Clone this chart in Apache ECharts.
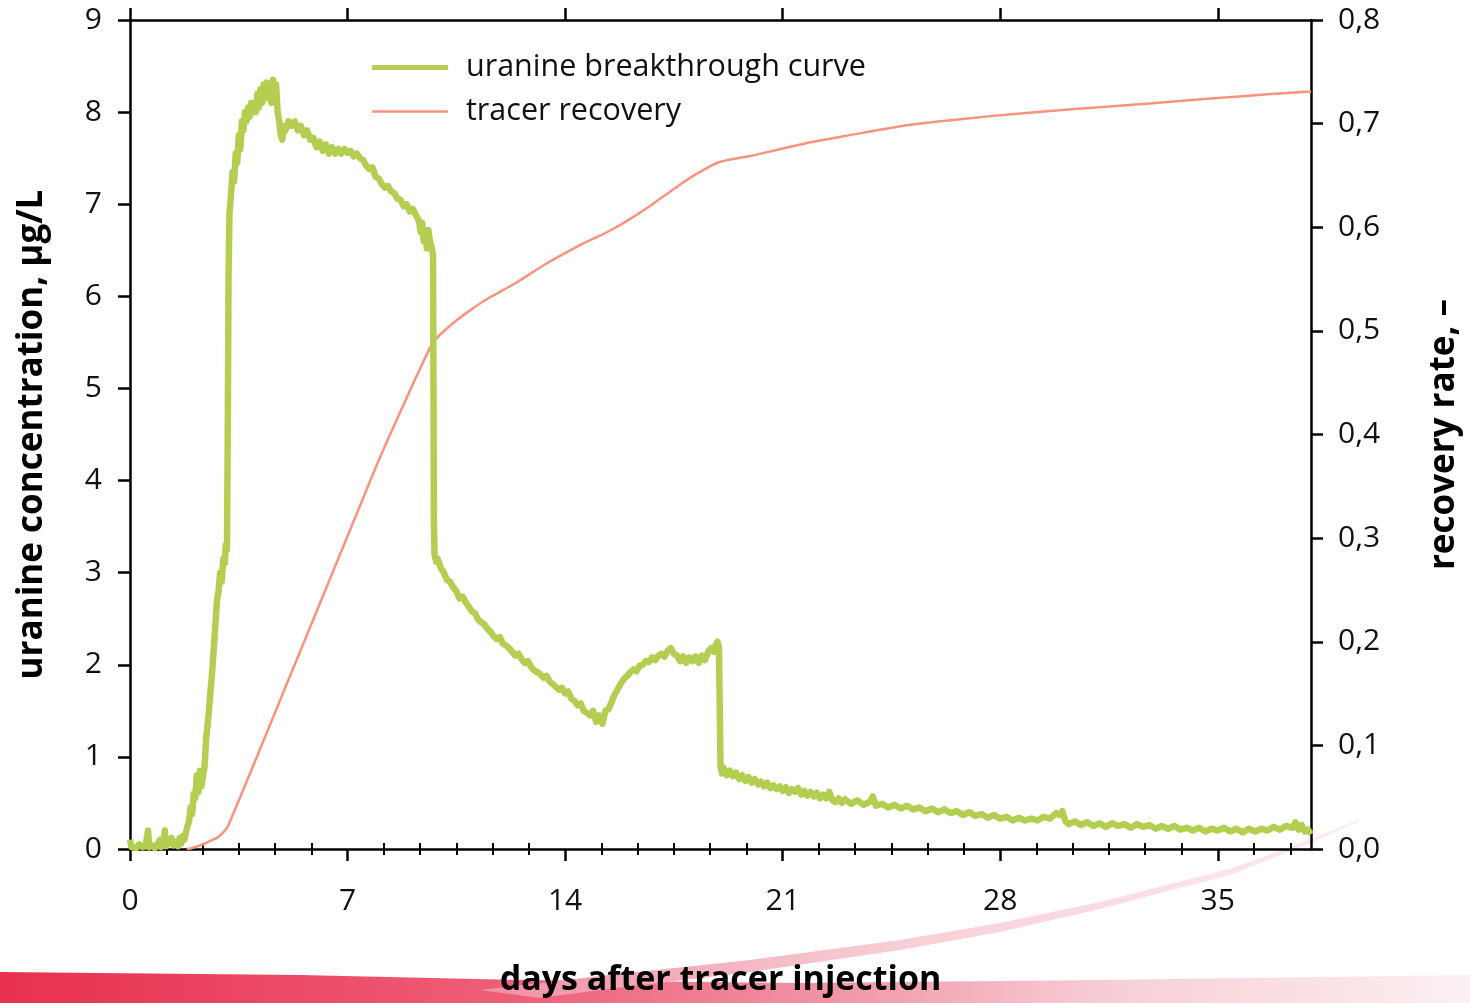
<!DOCTYPE html>
<html>
<head>
<meta charset="utf-8">
<script src="https://cdn.jsdelivr.net/npm/echarts@6/dist/echarts.min.js"></script>
<style>
html,body{margin:0;padding:0;background:#fff;}
#chart{width:1470px;height:1003px;}
</style>
</head>
<body>
<div id="chart"></div>
<script>
// ---- data ----
// x tick labels (days)
const xTickLabels = [0, 7, 14, 21, 28, 35];
const leftTicks = [0, 1, 2, 3, 4, 5, 6, 7, 8, 9];
const rightTicks = [0, 0.1, 0.2, 0.3, 0.4, 0.5, 0.6, 0.7, 0.8];

// uranine breakthrough curve, [day, µg/L], by segment
const baseline = [
  [0.0,0.10],[0.05,0.02],[0.1,0.04],[0.2,0.01],[0.3,0.05],[0.4,0.02],[0.5,0.03],[0.55,0.01],
  [0.58,0.20],[0.62,0.02],[0.7,0.04],[0.8,0.01],[0.9,0.06],[0.96,0.10],[1.0,0.02],[1.08,0.05],
  [1.12,0.20],[1.16,0.03],[1.25,0.06],[1.34,0.12],[1.4,0.04],[1.5,0.08],[1.55,0.03],[1.6,0.12],
  [1.65,0.06],[1.7,0.14],[1.75,0.10]
];
const rise = [
  [1.8,0.18],[1.85,0.25],[1.9,0.30],[1.95,0.45],[2.0,0.38],[2.05,0.60],[2.1,0.55],[2.15,0.80],
  [2.2,0.62],[2.25,0.85],[2.3,0.68],[2.35,0.80],[2.4,0.90],[2.45,1.20],[2.5,1.35],[2.55,1.55],
  [2.6,1.75],[2.65,1.95],[2.7,2.20],[2.75,2.45],[2.8,2.70],[2.85,2.80],[2.9,3.00],[2.95,2.90],
  [3.0,3.15],[3.05,3.10],[3.08,3.30],[3.12,3.25],[3.15,4.8],[3.17,6.2],[3.2,6.9]
];
const plateau = [
  [3.25,7.1],[3.3,7.35],[3.35,7.25],[3.4,7.55],[3.45,7.45],[3.5,7.75],[3.55,7.6],[3.6,7.9],
  [3.65,7.8],[3.7,8.0],[3.75,7.9],[3.8,8.05],[3.85,7.95],[3.9,8.1],[3.95,8.0],[4.0,8.1],
  [4.05,8.0],[4.1,8.2],[4.15,8.05],[4.2,8.25],[4.25,8.1],[4.3,8.3],[4.35,8.15],[4.4,8.32],
  [4.45,8.15],[4.5,8.25],[4.55,8.1],[4.6,8.35],[4.65,8.15],[4.7,8.3],[4.75,8.0],[4.8,7.9],
  [4.85,7.75],[4.9,7.7],[4.95,7.85],[5.0,7.8],[5.1,7.9],[5.2,7.85],[5.3,7.9],[5.4,7.8],
  [5.5,7.85],[5.6,7.75],[5.7,7.8],[5.8,7.7],[5.9,7.72],[6.0,7.62],[6.1,7.68],[6.2,7.58],
  [6.3,7.65],[6.4,7.55],[6.5,7.62],[6.6,7.55],[6.7,7.6],[6.8,7.55],[6.9,7.6],[7.0,7.56],
  [7.1,7.58],[7.2,7.52],[7.3,7.55],[7.4,7.5],[7.5,7.48],[7.6,7.42],[7.7,7.38],[7.8,7.4],
  [7.9,7.3],[8.0,7.28],[8.1,7.22],[8.2,7.18],[8.3,7.2],[8.4,7.14],[8.5,7.12],[8.6,7.06],
  [8.7,7.05],[8.8,6.98],[8.9,7.0],[9.0,6.92],[9.1,6.95],[9.2,6.88],[9.3,6.82],[9.35,6.7],
  [9.4,6.8],[9.45,6.6],[9.5,6.68],[9.55,6.52],[9.6,6.72],[9.65,6.6],[9.7,6.55],[9.75,6.45]
];
const decline = [
  [9.78,3.5],[9.8,3.2],[9.85,3.12],[9.9,3.15],[10.0,3.05],[10.1,3.0],[10.2,2.92],[10.3,2.9],
  [10.4,2.84],[10.5,2.8],[10.6,2.72],[10.7,2.74],[10.8,2.68],[10.9,2.63],[11.0,2.58],[11.1,2.56],
  [11.2,2.49],[11.3,2.46],[11.4,2.44],[11.5,2.39],[11.6,2.36],[11.7,2.31],[11.8,2.28],[11.9,2.3],
  [12.0,2.23],[12.1,2.21],[12.2,2.18],[12.3,2.14],[12.4,2.1],[12.5,2.12],[12.6,2.06],[12.7,2.02],
  [12.8,2.04],[12.9,1.98],[13.0,1.94],[13.1,1.92],[13.2,1.9],[13.3,1.86],[13.4,1.88],[13.5,1.82],
  [13.6,1.79],[13.7,1.76],[13.8,1.73],[13.9,1.75],[14.0,1.69],[14.1,1.71],[14.2,1.63],[14.3,1.61],
  [14.4,1.56],[14.5,1.58],[14.6,1.5],[14.7,1.48],[14.8,1.45],[14.9,1.5],[15.0,1.38],[15.1,1.45],
  [15.2,1.36],[15.3,1.5]
];
const secondPeak = [
  [15.4,1.52],[15.5,1.6],[15.6,1.68],[15.7,1.74],[15.8,1.8],[15.9,1.85],[16.0,1.88],[16.1,1.92],
  [16.2,1.95],[16.3,1.93],[16.4,1.99],[16.5,2.0],[16.6,2.04],[16.7,2.03],[16.8,2.08],[16.9,2.05],
  [17.0,2.1],[17.1,2.12],[17.2,2.09],[17.3,2.15],[17.4,2.18],[17.5,2.12],[17.6,2.1],[17.7,2.04],
  [17.8,2.09],[17.9,2.02],[18.0,2.08],[18.1,2.04],[18.2,2.09],[18.3,2.02],[18.4,2.1],[18.5,2.05],
  [18.6,2.14],[18.7,2.18],[18.8,2.14],[18.85,2.22],[18.9,2.25],[18.95,2.2]
];
const tail = [
  [19.0,0.90],[19.05,0.82],[19.1,0.88],[19.2,0.80],[19.3,0.85],[19.4,0.79],[19.5,0.83],[19.6,0.76],
  [19.7,0.80],[19.8,0.74],[19.9,0.78],[20.0,0.72],[20.1,0.76],[20.2,0.70],[20.3,0.73],[20.4,0.68],
  [20.5,0.72],[20.6,0.66],[20.7,0.69],[20.8,0.65],[20.9,0.68],[21.0,0.63],[21.1,0.67],[21.2,0.61],
  [21.3,0.65],[21.4,0.62],[21.5,0.66],[21.6,0.59],[21.7,0.63],[21.8,0.58],[21.9,0.62],[22.0,0.57],
  [22.1,0.61],[22.2,0.55],[22.3,0.59],[22.4,0.55],[22.5,0.62],[22.6,0.53],[22.7,0.51],[22.8,0.55],
  [22.9,0.50],[23.0,0.54],[23.2,0.49],[23.4,0.53],[23.6,0.48],[23.8,0.51],[23.9,0.57],[24.0,0.47],
  [24.2,0.49],[24.4,0.45],[24.6,0.48],[24.8,0.44],[25.0,0.47],[25.2,0.43],[25.4,0.45],[25.6,0.41],
  [25.8,0.44],[26.0,0.40],[26.2,0.43],[26.4,0.39],[26.6,0.41],[26.8,0.37],[27.0,0.40],[27.2,0.36],
  [27.4,0.38],[27.6,0.34],[27.8,0.37],[28.0,0.33],[28.2,0.35],[28.4,0.31],[28.6,0.34],[28.8,0.31],
  [29.0,0.33],[29.2,0.31],[29.4,0.35],[29.6,0.33],[29.8,0.39],[29.9,0.37],[30.0,0.41],[30.1,0.30],
  [30.2,0.27],[30.4,0.30],[30.6,0.26],[30.8,0.29],[31.0,0.25],[31.2,0.28],[31.4,0.24],[31.6,0.28],
  [31.8,0.25],[32.0,0.27],[32.2,0.23],[32.4,0.27],[32.6,0.24],[32.8,0.26],[33.0,0.22],[33.2,0.25],
  [33.4,0.22],[33.6,0.25],[33.8,0.21],[34.0,0.23],[34.2,0.20],[34.4,0.23],[34.6,0.19],[34.8,0.22],
  [35.0,0.20],[35.2,0.23],[35.4,0.19],[35.6,0.22],[35.8,0.18],[36.0,0.22],[36.2,0.19],[36.4,0.22],
  [36.6,0.20],[36.8,0.24],[37.0,0.21],[37.2,0.25],[37.4,0.23],[37.5,0.29],[37.6,0.21],[37.7,0.26],
  [37.8,0.19],[37.9,0.21],[38.0,0.16]
];

// tracer recovery, [day, rate]
const recovery = [
  [1.83,0],[2.0,0.001],[2.3,0.004],[2.6,0.008],[2.81,0.011],[3.0,0.016],[3.15,0.022],[4.0,0.083],
  [5.0,0.156],[6.0,0.229],[7.0,0.302],[7.48,0.337],[8.0,0.375],[8.67,0.42],[9.2,0.455],[9.73,0.488],
  [10.0,0.497],[10.5,0.51],[11.0,0.521],[11.5,0.531],[12.4,0.546],[13.4,0.565],[14.5,0.583],
  [15.2,0.593],[15.7,0.601],[16.2,0.610],[16.8,0.622],[17.5,0.637],[18.2,0.651],[18.97,0.663],
  [20.0,0.669],[21.0,0.676],[21.9,0.682],[23.0,0.688],[24.7,0.697],[26.0,0.702],[27.6,0.707],
  [29.5,0.712],[31.3,0.716],[33.0,0.720],[35.1,0.725],[36.5,0.728],[38.0,0.731]
];

const uranine = [].concat(baseline, rise, plateau, decline, secondPeak, tail);

// ---- chart ----
const FONT = "'Open Sans', 'Noto Sans', sans-serif";
const GREEN = '#b4ce52';
const SALMON = '#f8937e';
const X_MAX = 38;
const minorTickDays = [];
for (let k = 1; k * 7 / 6 < X_MAX - 0.01; k++) { if (k % 6 !== 0) minorTickDays.push(k * 7 / 6); }

const axisLineStyle = { color: '#000', width: 2.5 };
const chart = echarts.init(document.getElementById('chart'), null, { renderer: 'canvas' });

function xAxisBase(extra) {
  return Object.assign({
    type: 'value', min: 0, max: X_MAX, interval: 7,
    splitLine: { show: false },
    axisLine: { show: true, onZero: false, lineStyle: axisLineStyle },
    axisLabel: { show: false }
  }, extra);
}

const option = {
  backgroundColor: '#fff',
  animation: false,
  textStyle: { fontFamily: FONT },
  grid: { left: 130, right: 157, top: 20, bottom: 154, containLabel: false },
  graphic: [
    {
      type: 'polygon', z: -10, silent: true,
      shape: { points: [[0,972],[300,975],[520,980],[800,983],[1100,980],[1470,975],[1470,1003],[0,1003]] },
      style: { fill: new echarts.graphic.LinearGradient(0, 0, 1, 0, [
        { offset: 0, color: '#e8304f' }, { offset: 0.35, color: '#ee5f78' },
        { offset: 0.55, color: '#f190a2' }, { offset: 0.75, color: '#f7cdd5' }, { offset: 1, color: '#fcf0f2' }
      ]) }
    },
    {
      type: 'polygon', z: -9, silent: true,
      shape: { points: [[480,990],[600,976],[750,960],[900,940],[1000,923],[1100,902],[1233,868],[1313,838],[1358,820],
                        [1358,822],[1313,842],[1233,874],[1100,909],[1000,932],[900,950],[750,972],[600,990],[540,998]] },
      style: { fill: new echarts.graphic.LinearGradient(0, 0, 1, 0, [
        { offset: 0, color: '#f08fa2' }, { offset: 0.45, color: '#f7cbd4' }, { offset: 1, color: 'rgba(250,222,229,0.6)' }
      ]) }
    }
  ],
  legend: {
    orient: 'vertical', left: 372, top: 52, padding: 0,
    itemWidth: 76, itemHeight: 14, itemGap: 13,
    textStyle: { fontFamily: FONT, fontSize: 30.5, color: '#111', padding: [0, 0, 0, 13] },
    data: [
      { name: 'uranine breakthrough curve', icon: 'path://M0,0L76,0L76,5L0,5Z', itemStyle: { color: GREEN } },
      { name: 'tracer recovery', icon: 'path://M0,0L76,0L76,2.5L0,2.5Z', itemStyle: { color: SALMON } }
    ]
  },
  xAxis: [
    xAxisBase({
      position: 'bottom',
      name: 'days after tracer injection', nameLocation: 'middle', nameGap: 114,
      nameTextStyle: { fontFamily: FONT, fontSize: 34, fontWeight: 'bold', color: '#000' },
      axisTick: { show: true, inside: false, length: 12, lineStyle: { color: '#000', width: 2.5 }, customValues: xTickLabels },
      axisLabel: { show: true, margin: 37, fontFamily: FONT, fontSize: 30, color: '#111', customValues: xTickLabels }
    }),
    xAxisBase({
      position: 'bottom', axisLine: { show: false },
      axisTick: { show: true, inside: false, length: 6, lineStyle: { color: '#000', width: 2 }, customValues: minorTickDays }
    }),
    xAxisBase({
      position: 'top',
      axisTick: { show: true, inside: false, length: 12, lineStyle: { color: '#000', width: 2.5 }, customValues: xTickLabels }
    }),
    xAxisBase({
      position: 'top', axisLine: { show: false },
      axisTick: { show: true, inside: false, length: 6, lineStyle: { color: '#000', width: 2 }, customValues: minorTickDays }
    })
  ],
  yAxis: [
    {
      type: 'value', position: 'left', min: 0, max: 9, interval: 1,
      name: 'uranine concentration, µg/L', nameLocation: 'middle', nameGap: 80,
      nameTextStyle: { fontFamily: FONT, fontSize: 35, fontWeight: 'bold', color: '#000' },
      splitLine: { show: false },
      axisLine: { show: true, onZero: false, lineStyle: axisLineStyle },
      axisTick: { show: true, inside: false, length: 12, lineStyle: { color: '#000', width: 2.5 } },
      axisLabel: { margin: 28, fontFamily: FONT, fontSize: 30, color: '#111',
        formatter: v => leftTicks.indexOf(v) >= 0 ? String(v) : '' }
    },
    {
      type: 'value', position: 'right', min: 0, max: 0.8, interval: 0.1,
      name: 'recovery rate, –', nameLocation: 'middle', nameGap: 116, nameRotate: 90,
      nameTextStyle: { fontFamily: FONT, fontSize: 35, fontWeight: 'bold', color: '#000' },
      splitLine: { show: false },
      axisLine: { show: true, onZero: false, lineStyle: axisLineStyle },
      axisTick: { show: true, inside: false, length: 12, lineStyle: { color: '#000', width: 2.5 } },
      axisLabel: { margin: 27, fontFamily: FONT, fontSize: 30, color: '#111',
        formatter: v => {
          const m = rightTicks.find(t => Math.abs(t - v) < 1e-6);
          return m === undefined ? '' : m.toFixed(1).replace('.', ',');
        } }
    }
  ],
  series: [
    {
      name: 'tracer recovery', type: 'line', xAxisIndex: 0, yAxisIndex: 1,
      data: recovery, showSymbol: false, symbol: 'none', smooth: 0.2,
      lineStyle: { color: SALMON, width: 2.5 }, itemStyle: { color: SALMON }, z: 2
    },
    {
      name: 'uranine breakthrough curve', type: 'line', xAxisIndex: 0, yAxisIndex: 0,
      data: uranine, showSymbol: false, symbol: 'none', smooth: false, sampling: null,
      lineStyle: { color: GREEN, width: 6.5, join: 'round' }, itemStyle: { color: GREEN }, z: 3
    }
  ]
};
chart.setOption(option);
</script>
</body>
</html>
